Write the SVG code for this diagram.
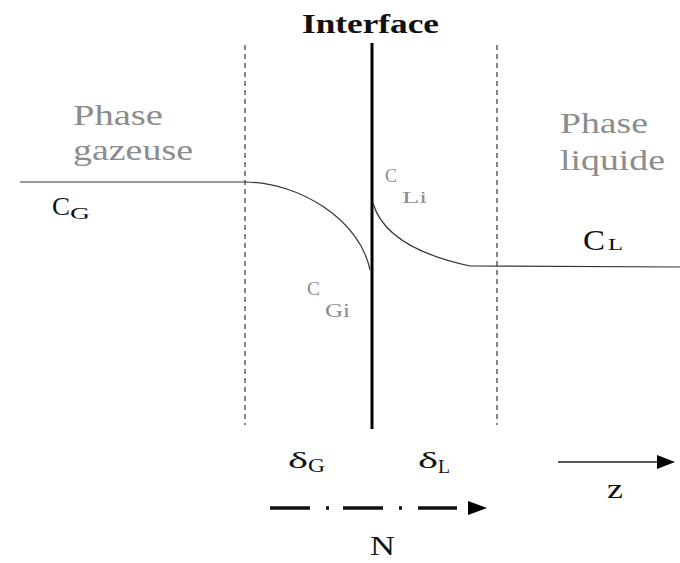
<svg xmlns="http://www.w3.org/2000/svg" width="680" height="563" viewBox="0 0 680 563">
<style>
  text { font-family: "Liberation Serif", "Times New Roman", serif; }
  .gray { fill: #8c8c8c; }
  .blk { fill: #111; }
  .thin { fill: none; stroke: #333; stroke-width: 1.2; }
  .dash { fill: none; stroke: #444; stroke-width: 1.3; stroke-dasharray: 5 4; }
</style>
<rect width="680" height="563" fill="#fff"/>
<g id="boundaries">
  <line class="dash" x1="245" y1="45" x2="245" y2="425"/>
  <line class="dash" x1="497" y1="45" x2="497" y2="425"/>
</g>
<g id="interface">
  <line x1="372" y1="43" x2="372" y2="429" stroke="#000" stroke-width="3"/>
  <text x="302" y="33" font-size="27" font-weight="bold" class="blk" textLength="137" lengthAdjust="spacingAndGlyphs">Interface</text>
</g>
<g id="connectors">
  <path class="thin" d="M20,182 L244,182 C300,182 360,220 370,270"/>
  <path class="thin" d="M373,203 C380,228 405,252 470,266 L680,267"/>
  <line x1="558" y1="462" x2="660" y2="462" stroke="#222" stroke-width="1.5"/>
  <polygon points="657,455 675,462 657,469" fill="#000"/>
  <g stroke="#111" stroke-width="3.5">
    <line x1="270" y1="508" x2="310" y2="508"/>
    <line x1="326" y1="508" x2="329" y2="508"/>
    <line x1="343" y1="508" x2="383" y2="508"/>
    <line x1="399" y1="508" x2="402" y2="508"/>
    <line x1="418" y1="508" x2="457" y2="508"/>
  </g>
  <polygon points="468,501 487,508 468,515" fill="#000"/>
</g>
<g id="phase-gazeuse">
  <text x="73" y="125" font-size="30" class="gray" textLength="90" lengthAdjust="spacingAndGlyphs">Phase</text>
  <text x="73" y="160" font-size="30" class="gray" textLength="120" lengthAdjust="spacingAndGlyphs">gazeuse</text>
</g>
<g id="phase-liquide">
  <text x="560" y="133" font-size="30" class="gray" textLength="88" lengthAdjust="spacingAndGlyphs">Phase</text>
  <text x="560" y="170" font-size="30" class="gray" textLength="105" lengthAdjust="spacingAndGlyphs">liquide</text>
</g>
<g id="CG">
  <text x="52" y="215" font-size="26" class="blk" textLength="18" lengthAdjust="spacingAndGlyphs">C</text>
  <text x="70" y="219" font-size="17" class="blk" textLength="20" lengthAdjust="spacingAndGlyphs">G</text>
</g>
<g id="CL">
  <text x="583" y="250" font-size="30" class="blk" textLength="22" lengthAdjust="spacingAndGlyphs">C</text>
  <text x="608" y="250" font-size="16" class="blk" textLength="15" lengthAdjust="spacingAndGlyphs">L</text>
</g>
<g id="CLi">
  <text x="385" y="182" font-size="18" class="gray" textLength="12" lengthAdjust="spacingAndGlyphs">C</text>
  <text x="402" y="203" font-size="17" class="gray" textLength="25" lengthAdjust="spacingAndGlyphs">Li</text>
</g>
<g id="CGi">
  <text x="307" y="295" font-size="19" class="gray" textLength="13" lengthAdjust="spacingAndGlyphs">C</text>
  <text x="325" y="317" font-size="18" class="gray" textLength="25" lengthAdjust="spacingAndGlyphs">Gi</text>
</g>
<g id="deltaG">
  <text x="288" y="468" font-size="24" class="blk" textLength="20" lengthAdjust="spacingAndGlyphs">δ</text>
  <text x="308" y="472" font-size="18" class="blk" textLength="17" lengthAdjust="spacingAndGlyphs">G</text>
</g>
<g id="deltaL">
  <text x="418" y="468" font-size="24" class="blk" textLength="20" lengthAdjust="spacingAndGlyphs">δ</text>
  <text x="438" y="473" font-size="18" class="blk" textLength="12" lengthAdjust="spacingAndGlyphs">L</text>
</g>
<g id="z">
  <text x="607" y="498" font-size="28" class="blk" textLength="16" lengthAdjust="spacingAndGlyphs">z</text>
</g>
<g id="N">
  <text x="370" y="555" font-size="27" class="blk" textLength="25" lengthAdjust="spacingAndGlyphs">N</text>
</g>
</svg>
